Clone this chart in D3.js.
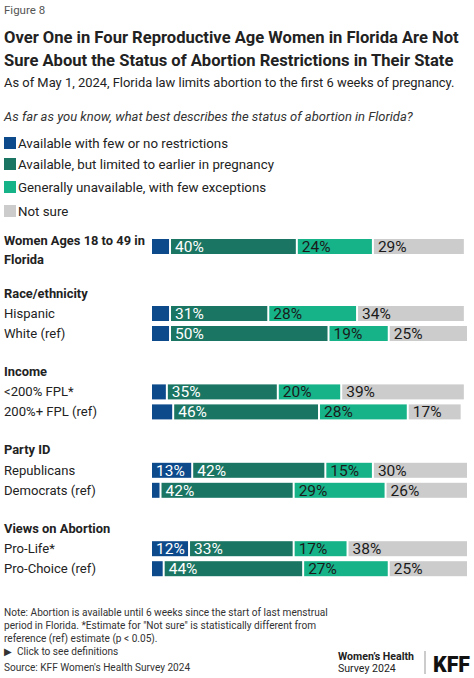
<!DOCTYPE html>
<html>
<head>
<meta charset="utf-8">
<script src="https://cdn.jsdelivr.net/npm/d3@7"></script>
<style>
  body { margin: 0; background: #fff; }
  svg { display: block; font-family: Roboto, Lato, "Noto Sans", sans-serif; }
</style>
</head>
<body>
<script>
// Data
var seriesNames = ["Available with few or no restrictions", "Available, but limited to earlier in pregnancy", "Generally unavailable, with few exceptions", "Not sure"];
var groups = ["", "Race/ethnicity", "Income", "Party ID", "Views on Abortion"];
var rowLabels = ["Women Ages 18 to 49 in Florida", "Hispanic", "White (ref)", "<200% FPL*", "200%+ FPL (ref)", "Republicans", "Democrats (ref)", "Pro-Life*", "Pro-Choice (ref)"];
var rowGroup = [0, 1, 1, 2, 2, 3, 3, 4, 4];
var fewRestrictions = [6, 6, 6, 5, 7, 13, 3, 12, 4];
var limitedEarlier = [40, 31, 50, 35, 46, 42, 42, 33, 44];
var unavailable = [24, 28, 19, 20, 28, 15, 29, 17, 27];
var notSure = [29, 34, 25, 39, 17, 30, 26, 38, 25];
var colors = ["#0d4a8c", "#1a7563", "#16b389", "#cccccc"];
var textColors = ["#fff", "#fff", "#1a1a1a", "#1a1a1a"];

var width = 474, height = 678;
var svg = d3.select("body").append("svg").attr("width", width).attr("height", height);

// Skalaer
var x = d3.scaleLinear().domain([0, 100]).range([152, 469]);
var barH = 15;
// first group is a single row, the rest are pairs
function rowTop(i) {
  var g = rowGroup[i];
  var first = rowGroup.indexOf(g);
  var base = g === 0 ? 239 : 306 + (g - 1) * 78.4;
  return base + (i - first) * 20;
}

// helper: scale font size so a string hits the width in the picture
function fit(sel, targetW) {
  var w = sel.node().getComputedTextLength();
  var fs = parseFloat(sel.attr("font-size"));
  return fs * targetW / w;
}

// Header
svg.append("text").attr("x", 4).attr("y", 10).attr("dominant-baseline", "central")
  .attr("font-size", 11.5).attr("fill", "#555").text("Figure 8");

var titleLines = ["Over One in Four Reproductive Age Women in Florida Are Not", "Sure About the Status of Abortion Restrictions in Their State"];
var title = svg.append("g").selectAll("text").data(titleLines).enter().append("text")
  .attr("x", 4).attr("y", function(d, i) { return 37 + i * 23; })
  .attr("dominant-baseline", "central")
  .attr("font-size", 19).attr("font-weight", 700).attr("fill", "#222")
  .text(function(d) { return d; });
var tfs = fit(d3.select(title.nodes()[0]), 455);
title.attr("font-size", tfs);

var sub = svg.append("text").attr("x", 4).attr("y", 82).attr("dominant-baseline", "central")
  .attr("font-size", 15).attr("fill", "#222")
  .text("As of May 1, 2024, Florida law limits abortion to the first 6 weeks of pregnancy.");
sub.attr("font-size", fit(sub, 451));

var q = svg.append("text").attr("x", 4).attr("y", 116).attr("dominant-baseline", "central")
  .attr("font-size", 14).attr("font-style", "italic").attr("fill", "#333")
  .text("As far as you know, what best describes the status of abortion in Florida?");
q.attr("font-size", fit(q, 409));

// Legend
var legendY = [143, 164, 187, 211];
var leg = svg.append("g").selectAll("g").data(seriesNames).enter().append("g");
leg.append("rect").attr("x", 4).attr("y", function(d, i) { return legendY[i] - 6; })
  .attr("width", 12).attr("height", 12).attr("fill", function(d, i) { return colors[i]; });
var legText = leg.append("text").attr("x", 18).attr("y", function(d, i) { return legendY[i]; })
  .attr("dominant-baseline", "central").attr("font-size", 14).attr("fill", "#222")
  .text(function(d) { return d; });
legText.attr("font-size", fit(d3.select(legText.nodes()[1]), 256));

// Group headers
var headerY = [0, 293, 371, 449, 528];
var hdr = svg.append("g").selectAll("text").data(groups.slice(1)).enter().append("text")
  .attr("x", 4).attr("y", function(d, i) { return headerY[i + 1]; })
  .attr("dominant-baseline", "central").attr("font-size", 14).attr("font-weight", 700).attr("fill", "#222")
  .text(function(d) { return d; });

// Row labels
var ov = svg.append("text").attr("x", 4).attr("font-size", 14).attr("font-weight", 700).attr("fill", "#222");
ov.append("tspan").attr("x", 4).attr("y", 240).attr("dominant-baseline", "central").text("Women Ages 18 to 49 in");
var bfs = fit(ov, 141);
ov.attr("font-size", bfs);
ov.append("tspan").attr("x", 4).attr("y", 259).attr("dominant-baseline", "central").text("Florida");
hdr.attr("font-size", bfs);

var rl = svg.append("g").selectAll("text").data(rowLabels.slice(1)).enter().append("text")
  .attr("x", 4).attr("y", function(d, i) { return rowTop(i + 1) + barH / 2; })
  .attr("dominant-baseline", "central").attr("font-size", 14).attr("fill", "#222")
  .text(function(d) { return d; });
rl.attr("font-size", fit(d3.select(rl.nodes()[0]), 51));

// Bars
var rows = rowLabels.map(function(d, i) {
  var vals = [fewRestrictions[i], limitedEarlier[i], unavailable[i], notSure[i]];
  var start = 0;
  return vals.map(function(v, k) {
    var seg = { row: i, k: k, v: v, x0: start, x1: start + v };
    start += v;
    return seg;
  });
});

var rowG = svg.append("g").selectAll("g").data(rows).enter().append("g")
  .attr("transform", function(d, i) { return "translate(0," + rowTop(i) + ")"; });

rowG.selectAll("rect").data(function(d) { return d; }).enter().append("rect")
  .attr("x", function(d) { return x(d.x0); })
  .attr("y", 0)
  .attr("width", function(d) { return x(d.x1) - x(d.x0) - 2; })
  .attr("height", barH)
  .attr("fill", function(d) { return colors[d.k]; });

rowG.selectAll("text").data(function(d) { return d.filter(function(s) { return s.v >= 10; }); })
  .enter().append("text")
  .attr("x", function(d) { return x(d.x0) + 4; })
  .attr("y", barH / 2 + 0.5)
  .attr("dominant-baseline", "central")
  .attr("font-size", 15.5).attr("fill", function(d) { return textColors[d.k]; })
  .text(function(d) { return d.v + "%"; });

// Notes
var notes = ["Note: Abortion is available until 6 weeks since the start of last menstrual",
  "period in Florida. *Estimate for \"Not sure\" is statistically different from",
  "reference (ref) estimate (p < 0.05)."];
var nt = svg.append("g").selectAll("text").data(notes).enter().append("text")
  .attr("x", 4).attr("y", function(d, i) { return 612 + i * 13; })
  .attr("dominant-baseline", "central").attr("font-size", 12).attr("fill", "#333")
  .text(function(d) { return d; });
var nfs = fit(d3.select(nt.nodes()[0]), 324);
nt.attr("font-size", nfs);

svg.append("text").attr("x", 4).attr("y", 651).attr("dominant-baseline", "central")
  .attr("font-size", nfs).attr("fill", "#333").text("\u25B6\u00A0 Click to see definitions");
svg.append("text").attr("x", 4).attr("y", 667).attr("dominant-baseline", "central")
  .attr("font-size", nfs).attr("fill", "#333").text("Source: KFF Women's Health Survey 2024");

// Logo
var wh = svg.append("text").attr("x", 338).attr("y", 656).attr("dominant-baseline", "central")
  .attr("font-size", 12.5).attr("font-weight", 700).attr("fill", "#222").text("Women\u2019s Health");
wh.attr("font-size", fit(wh, 76));
svg.append("text").attr("x", 338).attr("y", 668).attr("dominant-baseline", "central")
  .attr("font-size", wh.attr("font-size")).attr("fill", "#222").text("Survey 2024");
svg.append("line").attr("x1", 425).attr("x2", 425).attr("y1", 651).attr("y2", 674)
  .attr("stroke", "#999").attr("stroke-width", 1);
var kff = svg.append("text").attr("x", 433).attr("y", 672)
  .attr("font-size", 21).attr("font-weight", 900).attr("fill", "#111").text("KFF");
kff.attr("font-size", fit(kff, 37));
</script>
</body>
</html>
